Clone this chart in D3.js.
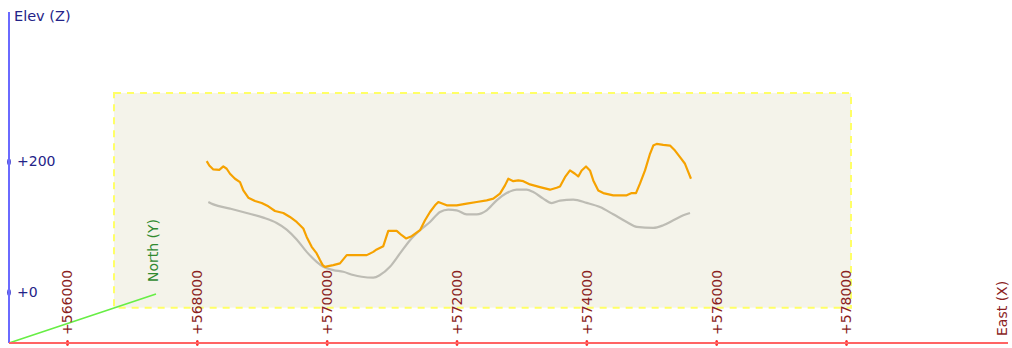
<!DOCTYPE html>
<html>
<head>
<meta charset="utf-8">
<script src="https://cdn.jsdelivr.net/npm/d3@7"></script>
<style>
  html, body { margin: 0; padding: 0; background: #ffffff; }
  svg { display: block; }
  text { font-family: "DejaVu Sans", sans-serif; font-size: 14px; }
</style>
</head>
<body>
<svg id="chart" width="1012" height="348"></svg>
<script>
// Easting tick values (X) and elevation tick values (Z)
const eastTicks = [566000, 568000, 570000, 572000, 574000, 576000, 578000];
const elevTicks = [0, 200];

// Bounding box of the survey area: [east min, east max], [elev min, elev max]
const boxEast = [566724, 578077];
const boxElev = [-24, 305];

// Flight track (orange): easting and elevation
const trackEast = [568152, 568192, 568254, 568346, 568408, 568460, 568511, 568588, 568665, 568716,
  568793, 568896, 568999, 569101, 569204, 569332, 569435, 569538, 569640, 569692,
  569769, 569846, 569897, 569939, 569974, 570025, 570102, 570205, 570309, 570410,
  570617, 570718, 570771, 570872, 570949, 571079, 571156, 571222, 571310, 571438,
  571515, 571592, 571669, 571720, 571849, 572003, 572157, 572311, 572465, 572567,
  572670, 572747, 572798, 572875, 572952, 573029, 573132, 573286, 573440, 573543,
  573594, 573671, 573748, 573825, 573876, 573928, 573995, 574056, 574107, 574184,
  574261, 574415, 574622, 574699, 574765, 574826, 574904, 574981, 575031, 575084,
  575185, 575289, 575366, 575443, 575520, 575571, 575612];
const trackElev = [200.5, 193.9, 187.8, 187.3, 192.4, 188.9, 181.2, 173.6, 168.4, 155.7,
  144.6, 139.4, 136.3, 131.3, 124.1, 121.1, 115.0, 107.3, 97.3, 84.4,
  69.2, 59.1, 48.9, 41.2, 38.6, 39.7, 41.2, 43.8, 56.5, 56.5,
  56.5, 61.5, 65.2, 70.2, 93.6, 93.6, 87.0, 82.0, 85.5, 94.7,
  109.9, 122.6, 132.8, 137.9, 132.8, 132.8, 135.4, 137.9, 140.5, 143.1,
  150.7, 163.4, 173.6, 169.9, 171.0, 169.9, 164.9, 160.8, 156.8, 159.8,
  161.8, 176.0, 186.3, 181.2, 177.1, 186.3, 192.4, 186.3, 171.0, 155.7,
  151.6, 148.1, 148.1, 151.6, 151.6, 166.0, 186.3, 211.8, 224.4, 227.0,
  225.5, 224.4, 216.8, 206.6, 196.5, 183.7, 173.6];

// Ground surface under the track (grey): easting and elevation
const groundEast = [568177, 568254, 568511, 568768, 569024, 569230, 569384, 569538, 569692, 569846,
  569948, 570102, 570256, 570410, 570540, 570718, 570821, 570975, 571130, 571284,
  571438, 571592, 571746, 571874, 572003, 572157, 572311, 572465, 572619, 572773,
  572927, 573081, 573183, 573337, 573466, 573594, 573799, 574006, 574210, 574415,
  574622, 574776, 575031, 575185, 575340, 575494, 575597];
const groundElev = [137.9, 134.3, 127.8, 121.1, 114.0, 105.8, 95.7, 80.5, 61.5, 46.3,
  38.6, 33.6, 31.0, 26.0, 23.4, 22.1, 26.0, 38.6, 59.1, 79.4,
  94.7, 107.3, 122.6, 126.3, 125.2, 119.1, 119.1, 125.2, 140.5, 151.6,
  156.8, 156.8, 153.1, 143.1, 136.3, 140.0, 141.5, 136.6, 130.2, 119.1,
  107.3, 99.7, 98.2, 102.3, 109.9, 117.6, 121.1];

const svg = d3.select("#chart");

const x = d3.scaleLinear().domain([566000, 578000]).range([67, 846]);
const z = d3.scaleLinear().domain([0, 200]).range([292, 161.5]);

const origin = { x: 9, y: 343 };

// Survey bounding box
svg.append("rect")
  .attr("x", x(boxEast[0]))
  .attr("y", z(boxElev[1]))
  .attr("width", x(boxEast[1]) - x(boxEast[0]))
  .attr("height", z(boxElev[0]) - z(boxElev[1]))
  .attr("fill", "#f4f3ea")
  .attr("stroke", "#ffff66")
  .attr("stroke-width", 2)
  .attr("stroke-dasharray", "7,6");

// Profiles
const line = d3.line().x(d => x(d[0])).y(d => z(d[1]));
svg.append("path")
  .datum(d3.zip(groundEast, groundElev))
  .attr("d", line.curve(d3.curveMonotoneX))
  .attr("fill", "none")
  .attr("stroke", "#bdbcb4")
  .attr("stroke-width", 2.2);
svg.append("path")
  .datum(d3.zip(trackEast, trackElev))
  .attr("d", d3.line().x(d => x(d[0])).y(d => z(d[1])))
  .attr("fill", "none")
  .attr("stroke", "#f6a200")
  .attr("stroke-width", 2.2)
  .attr("stroke-linejoin", "round");

// North (Y) axis, drawn obliquely
svg.append("line")
  .attr("x1", origin.x).attr("y1", origin.y)
  .attr("x2", 156).attr("y2", 294)
  .attr("stroke", "#66ee44").attr("stroke-width", 1.6);
svg.append("text")
  .attr("transform", "translate(158,282) rotate(-90)")
  .attr("fill", "#2f8a2f")
  .text("North (Y)");

// Elevation (Z) axis
const zAxis = d3.axisRight(z)
  .tickValues(elevTicks)
  .tickSize(0)
  .tickPadding(8)
  .tickFormat(d => "+" + d);
const zg = svg.append("g").attr("transform", `translate(${origin.x},0)`).call(zAxis);
zg.select(".domain").remove();
zg.selectAll(".tick text").attr("fill", "#232388").style("font-size", "14px").style("font-family", "DejaVu Sans");
zg.selectAll(".tick").append("ellipse")
  .attr("rx", 1.8).attr("ry", 3.4).attr("fill", "#2e2ecc");
svg.append("line")
  .attr("x1", origin.x).attr("y1", 12)
  .attr("x2", origin.x).attr("y2", origin.y)
  .attr("stroke", "#6a6aff").attr("stroke-width", 2);
svg.append("text")
  .attr("x", 14).attr("y", 21)
  .attr("fill", "#232388")
  .style("font-size", "14.5px")
  .text("Elev (Z)");

// East (X) axis
const xAxis = d3.axisBottom(x)
  .tickValues(eastTicks)
  .tickSize(0)
  .tickFormat(d => "+" + d);
const xg = svg.append("g").attr("transform", `translate(0,${origin.y})`).call(xAxis);
xg.select(".domain").remove();
xg.selectAll(".tick text")
  .attr("fill", "#8b1f1f")
  .attr("text-anchor", "start")
  .attr("transform", "translate(0,-8) rotate(-90)")
  .attr("x", 0).attr("y", 0).attr("dy", "0.35em")
  .style("font-size", "14px").style("font-family", "DejaVu Sans");
svg.append("line")
  .attr("x1", origin.x).attr("y1", origin.y)
  .attr("x2", 1008).attr("y2", origin.y)
  .attr("stroke", "#ff6464").attr("stroke-width", 2);
xg.selectAll(".tick").append("ellipse")
  .attr("rx", 1.5).attr("ry", 3).attr("fill", "#ff3030");
svg.append("text")
  .attr("transform", "translate(1007,336) rotate(-90)")
  .attr("fill", "#8b1f1f")
  .text("East (X)");
</script>
</body>
</html>
